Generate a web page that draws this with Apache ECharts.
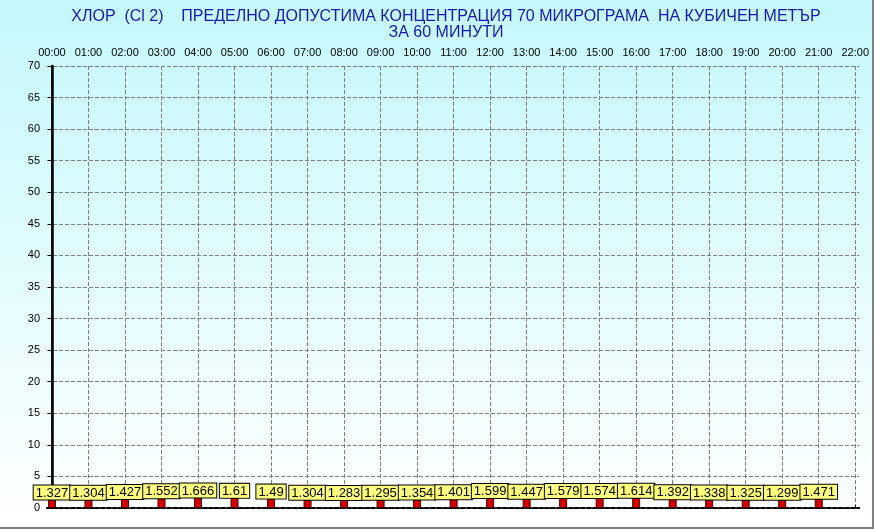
<!DOCTYPE html>
<html><head><meta charset="utf-8">
<script src="https://cdn.jsdelivr.net/npm/echarts@6/dist/echarts.min.js"></script>
<style>
html,body{margin:0;padding:0;background:#fff;}
#wrap{width:874px;height:529px;box-sizing:border-box;border-right:2px solid #808080;border-bottom:2px solid #808080;}
#c{width:872px;height:527px;}
</style></head>
<body><div id="wrap"><div id="c"></div></div>
<script>
const titleLines = ['ХЛОР  (Cl 2)    ПРЕДЕЛНО ДОПУСТИМА КОНЦЕНТРАЦИЯ 70 МИКРОГРАМА  НА КУБИЧЕН МЕТЪР', 'ЗА 60 МИНУТИ'];
const hours = ['00:00','01:00','02:00','03:00','04:00','05:00','06:00','07:00','08:00','09:00','10:00','11:00','12:00','13:00','14:00','15:00','16:00','17:00','18:00','19:00','20:00','21:00','22:00'];
const values = [1.327,1.304,1.427,1.552,1.666,1.61,1.49,1.304,1.283,1.295,1.354,1.401,1.599,1.447,1.579,1.574,1.614,1.392,1.338,1.325,1.299,1.471];
const yMin = 0, yMax = 70, yStep = 5;

const hourIdx = hours.map((_, i) => i);
const chart = echarts.init(document.getElementById('c'));
const font = 'Arial, "Liberation Sans", sans-serif';
chart.setOption({
  animation: false,
  backgroundColor: {type:'linear', x:0, y:0, x2:0, y2:1, colorStops:[{offset:0,color:'#c4f8fb'},{offset:1,color:'#ffffff'}]},
  title: {
    text: titleLines.join('\n'), left: 441, textAlign: 'center', top: 4, padding:5,
    textStyle: {color:'#1818b0', fontSize:16, fontWeight:'normal', fontFamily:'"Liberation Sans Narrow", "Arial Narrow", Arial, sans-serif', lineHeight:16}
  },
  grid: {left:47, right:7, top:66, bottom:19},
  xAxis: [{
    type:'value', position:'top', min:-0.136, max:22.109,
    axisLine:{show:true, lineStyle:{color:'#000', width:2, type:[4,2]}},
    axisTick:{show:true, customValues:hourIdx, length:3, lineStyle:{color:'#000'}},
    axisLabel:{customValues:hourIdx, formatter:v => hours[Math.round(v)], fontSize:11, color:'#000', fontFamily:font, margin:8},
    splitLine:{show:true, lineStyle:{color:'#808080', type:'dashed'}}
  },{
    type:'value', position:'bottom', min:-0.136, max:22.109,
    axisLine:{show:true, onZero:false, lineStyle:{color:'#000', width:1, type:[3,2]}},
    axisTick:{show:false}, axisLabel:{show:false}, splitLine:{show:false}
  }],
  yAxis: [{
    type:'value', min:yMin, max:yMax, interval:yStep,
    axisLine:{show:true, lineStyle:{color:'#000', width:2.5}},
    axisTick:{show:true, length:4, lineStyle:{color:'#000'}},
    axisLabel:{fontSize:11, color:'#000', fontFamily:font, margin:7},
    splitLine:{show:true, lineStyle:{color:'#808080', type:'dashed'}}
  },{
    type:'value', position:'right', min:yMin, max:yMax, interval:yStep,
    axisLine:{show:true, lineStyle:{color:'#000', width:1.5}},
    axisTick:{show:false}, axisLabel:{show:false}, splitLine:{show:false}
  }],
  series: [{
    type:'bar', xAxisIndex:0, yAxisIndex:0, barWidth:8,
    data: values.map((v, i) => [i, v]),
    itemStyle:{color:'#d00000', borderColor:'#500000', borderWidth:1},
    label:{show:true, position:'top', distance:0, formatter:p => String(values[p.dataIndex]),
      backgroundColor:'#ffff80', borderColor:'#000', borderWidth:1, padding:[1,2,0,2],
      fontSize:13, lineHeight:13, color:'#000', fontFamily:font}
  }]
});
</script></body></html>
